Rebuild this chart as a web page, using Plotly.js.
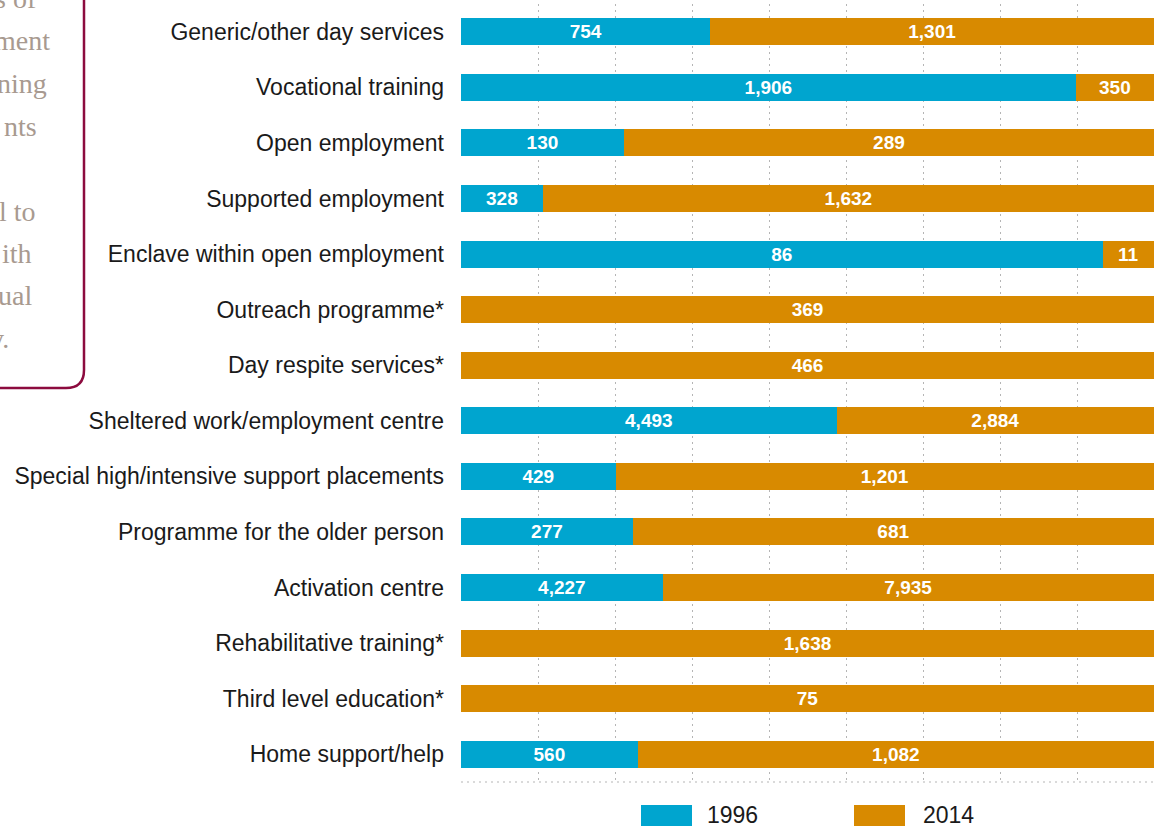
<!DOCTYPE html>
<html>
<head>
<meta charset="utf-8">
<script src="https://cdn.plot.ly/plotly-3.0.1.min.js"></script>
<style>
  html, body { margin: 0; padding: 0; background: #ffffff; overflow: hidden; }
  #chart { width: 1154px; height: 826px; }
</style>
</head>
<body>
<div id="chart"></div>
<script>
// ---- Data ----
const categories = [
  "Generic/other day services",
  "Vocational training",
  "Open employment",
  "Supported employment",
  "Enclave within open employment",
  "Outreach programme*",
  "Day respite services*",
  "Sheltered work/employment centre",
  "Special high/intensive support placements",
  "Programme for the older person",
  "Activation centre",
  "Rehabilitative training*",
  "Third level education*",
  "Home support/help"
];
// bar shares (percent of each bar)
const share1996 = [36.0, 88.7, 23.5, 11.8, 92.6, 0, 0, 54.2, 22.3, 24.8, 29.1, 0, 0, 25.5];
const share2014 = [64.0, 11.3, 76.5, 88.2, 7.4, 100, 100, 45.8, 77.7, 75.2, 70.9, 100, 100, 74.5];
// value labels printed on the bars
const labels1996 = ["754", "1,906", "130", "328", "86", "", "", "4,493", "429", "277", "4,227", "", "", "560"];
const labels2014 = ["1,301", "350", "289", "1,632", "11", "369", "466", "2,884", "1,201", "681", "7,935", "1,638", "75", "1,082"];
const seriesNames = ["1996", "2014"];
const sideNoteLines = ["s of", "ment", "ning", "nts", "", "l to", "ith", "ual", "y."];

// ---- Styling ----
const BLUE = "#00a5cf";
const ORANGE = "#d88a00";
const SANS = "Liberation Sans, Arial, Helvetica, sans-serif";
const SERIF = "Liberation Serif, Times New Roman, serif";

const W = 1154, H = 826;
const ML = 461, MR = 0, MT = 4, MB = 44;
const PW = W - ML - MR, PH = H - MT - MB;
const px2x = px => (px - ML) / PW;
const py2y = py => 1 - (py - MT) / PH;

const barCommon = {
  type: "bar",
  orientation: "h",
  textposition: "inside",
  insidetextanchor: "middle",
  textangle: 0,
  constraintext: "none",
  textfont: { family: SANS, size: 19, color: "#ffffff", weight: "bold" },
  hoverinfo: "skip",
  marker: { line: { width: 0 } },
  showlegend: false
};

const traces = [
  Object.assign({}, barCommon, {
    name: seriesNames[0], y: categories, x: share1996, text: labels1996,
    texttemplate: "%{text}", marker: { color: BLUE, line: { width: 0 } }
  }),
  Object.assign({}, barCommon, {
    name: seriesNames[1], y: categories, x: share2014, text: labels2014,
    texttemplate: "%{text}", marker: { color: ORANGE, line: { width: 0 } }
  })
];

// ---- Side note box (cropped at the page edge) ----
const shapes = [];
const annotations = [];
const boxR = 84, boxB = 388, rad = 18;
shapes.push({
  type: "path", xref: "paper", yref: "paper",
  path: "M " + px2x(-20) + "," + py2y(boxB) +
        " L " + px2x(boxR - rad) + "," + py2y(boxB) +
        " Q " + px2x(boxR) + "," + py2y(boxB) + " " + px2x(boxR) + "," + py2y(boxB - rad) +
        " L " + px2x(boxR) + "," + py2y(-20),
  line: { color: "#8c0b3e", width: 2.5 },
  fillcolor: "rgba(0,0,0,0)"
});
const noteRight = [39, 52, 49, 39, 0, 38, 34, 34, 11];
sideNoteLines.forEach((t, i) => {
  if (!t) return;
  const baseline = 7.5 + i * 42.5;
  annotations.push({
    xref: "paper", yref: "paper",
    x: px2x(noteRight[i]), xanchor: "right",
    y: py2y(baseline - 9), yanchor: "middle",
    text: t, showarrow: false,
    font: { family: SERIF, size: 28, color: "#a89a90" }
  });
});

// ---- Bottom dotted axis line ----
shapes.push({
  type: "line", xref: "paper", yref: "paper",
  x0: 0, x1: 1, y0: 0, y1: 0,
  line: { color: "#b5b5b5", width: 1.2, dash: "2px,4px" }
});

// ---- Legend drawn at the bottom ----
const legendItems = [
  { name: seriesNames[0], color: BLUE, sx: 641, tx: 705 },
  { name: seriesNames[1], color: ORANGE, sx: 854, tx: 921 }
];
legendItems.forEach(it => {
  shapes.push({
    type: "rect", xref: "paper", yref: "paper",
    x0: px2x(it.sx), x1: px2x(it.sx + 51),
    y0: py2y(805), y1: py2y(835),
    fillcolor: it.color, line: { width: 0 }
  });
  annotations.push({
    xref: "paper", yref: "paper",
    x: px2x(it.tx), xanchor: "left",
    y: py2y(815), yanchor: "middle",
    text: it.name, showarrow: false,
    font: { family: SANS, size: 23, color: "#1a1a1a" }
  });
});

const layout = {
  width: W, height: H,
  margin: { l: ML, r: MR, t: MT, b: MB, pad: 0 },
  barmode: "stack",
  bargap: 0.514,
  paper_bgcolor: "#ffffff",
  plot_bgcolor: "#ffffff",
  showlegend: false,
  xaxis: {
    range: [0, 100],
    tick0: 0, dtick: 100 / 9,
    showgrid: true, gridcolor: "#b5b5b5", gridwidth: 1, griddash: "2px,4px",
    zeroline: false, showline: false, showticklabels: false, ticks: "",
    fixedrange: true
  },
  yaxis: {
    type: "category",
    autorange: "reversed",
    showgrid: false, zeroline: false, showline: false,
    ticks: "", ticklabelstandoff: 16,
    tickfont: { family: SANS, size: 23, color: "#1a1a1a" },
    automargin: false,
    fixedrange: true
  },
  shapes: shapes,
  annotations: annotations,
  hovermode: false
};

Plotly.newPlot("chart", traces, layout, { displayModeBar: false, staticPlot: true, responsive: false });
</script>
</body>
</html>
